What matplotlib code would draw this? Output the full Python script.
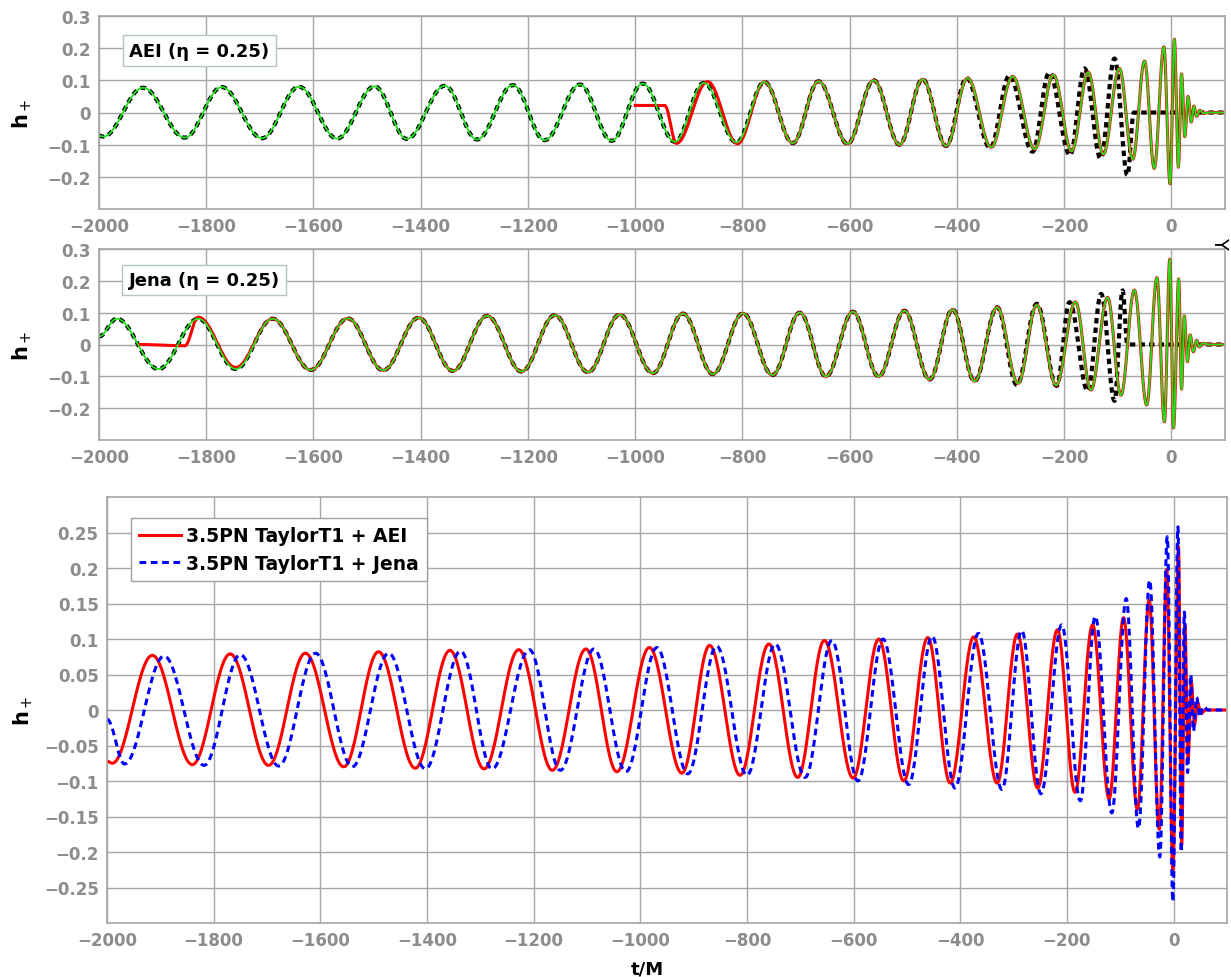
import numpy as np
import matplotlib
matplotlib.use("Agg")
import matplotlib.pyplot as plt
from matplotlib.ticker import FuncFormatter

# ---- data: extrema (t/M, h+) of every wave ----
# top panel, AEI hybrid (green)
aei_t = [-2000, -1992, -1918, -1840, -1771, -1696, -1627, -1556, -1486, -1426,
         -1355, -1295, -1228, -1169, -1103, -1044, -986, -926, -872, -811,
         -759, -706, -658, -604, -555, -507, -464, -420, -380, -336,
         -296, -255, -220, -186, -155, -127, -97, -72, -50, -32,
         -14, -2.5, 5.6, 13, 19, 25, 31, 37, 42, 47, 53, 60, 70, 100]
aei_h = [-0.072, -0.075, 0.077, -0.078, 0.079, -0.080, 0.080, -0.081, 0.081, -0.082,
         0.083, -0.084, 0.085, -0.086, 0.087, -0.088, 0.090, -0.091, 0.092, -0.093,
         0.095, -0.095, 0.097, -0.097, 0.100, -0.100, 0.103, -0.104, 0.107, -0.108,
         0.112, -0.114, 0.117, -0.120, 0.125, -0.130, 0.137, -0.145, 0.160, -0.174,
         0.204, -0.222, 0.228, -0.170, 0.120, -0.075, 0.050, -0.030, 0.020, -0.012,
         0.007, -0.003, 0.0, 0.0]
# top panel, PN part (black dashed) after it leaves the green curve
aei_pn_t = [-382, -338, -302, -259, -228, -189, -162, -132, -106, -82, -70, 100]
aei_pn_h = [0.107, -0.110, 0.115, -0.122, 0.124, -0.133, 0.137, -0.143, 0.168, -0.195, 0.0, 0.0]
# top panel, red hybrid before it joins the green curve
aei_red_t = [-1000, -945, -923, -865, -809]
aei_red_h = [0.022, 0.022, -0.096, 0.096, -0.097]

# middle panel, Jena hybrid (green)
jena_t = [-2000, -1967, -1889, -1815, -1745, -1676, -1605, -1536, -1470, -1404,
          -1340, -1276, -1212, -1150, -1088, -1029, -967, -911, -855, -799,
          -744, -693, -644, -594, -546, -498, -451, -408, -367, -325,
          -286, -251, -215, -179, -150, -119, -94, -69, -46, -27,
          -13, -3, 4, 13.6, 19, 24, 30, 35, 41, 47, 52, 58, 70, 100]
jena_h = [0.025, 0.081, -0.077, 0.081, -0.077, 0.081, -0.080, 0.082, -0.081, 0.084,
          -0.083, 0.090, -0.085, 0.092, -0.087, 0.094, -0.090, 0.097, -0.093, 0.098,
          -0.096, 0.100, -0.100, 0.103, -0.100, 0.106, -0.110, 0.110, -0.115, 0.117,
          -0.122, 0.124, -0.128, 0.134, -0.143, 0.148, -0.159, 0.171, -0.190, 0.210,
          -0.243, 0.268, -0.262, 0.206, -0.140, 0.090, -0.054, 0.030, -0.023, 0.013,
          -0.008, 0.004, 0.0, 0.0]
jena_pn_t = [-325, -288, -251, -214, -190, -156, -131, -106, -91, -82, 100]
jena_pn_h = [0.117, -0.127, 0.128, -0.130, 0.133, -0.146, 0.159, -0.177, 0.170, 0.0, 0.0]
jena_red_t = [-1925, -1840, -1815, -1745]
jena_red_h = [0.0, -0.004, 0.086, -0.072]

# bottom panel: 3.5PN TaylorT1 + AEI / + Jena
t1_aei_t = [-2000, -1990, -1915, -1840, -1769, -1697, -1628, -1556, -1491, -1422,
            -1357, -1293, -1228, -1165, -1102, -1044, -983, -922, -870, -813,
            -759, -705, -655, -601, -553, -506, -461, -419, -375, -331,
            -293, -255, -218, -185, -152, -121, -94, -68, -46, -27,
            -13, -1.5, 9, 15, 21, 27, 33, 39, 45, 51, 60, 100]
t1_aei_h = [-0.072, -0.075, 0.077, -0.077, 0.079, -0.078, 0.080, -0.080, 0.082, -0.082,
            0.084, -0.083, 0.085, -0.085, 0.086, -0.087, 0.088, -0.089, 0.091, -0.092,
            0.093, -0.095, 0.098, -0.096, 0.100, -0.100, 0.102, -0.103, 0.103, -0.103,
            0.107, -0.110, 0.113, -0.116, 0.120, -0.125, 0.130, -0.140, 0.155, -0.168,
            0.198, -0.225, 0.230, -0.190, 0.120, -0.070, 0.040, -0.020, 0.010, -0.005,
            0.0, 0.0]
t1_jena_t = [-2000, -1967, -1893, -1818, -1750, -1678, -1609, -1540, -1472, -1403,
             -1337, -1278, -1208, -1150, -1087, -1027, -969, -911, -857, -800,
             -747, -691, -641, -592, -545, -497, -453, -410, -366, -322,
             -285, -249, -210, -175, -147, -116, -89, -66, -45, -26,
             -12, -1.5, 8, 14, 20, 26, 32, 37, 43, 49, 55, 65, 100]
t1_jena_h = [-0.013, -0.076, 0.076, -0.078, 0.078, -0.079, 0.080, -0.080, 0.080, -0.083,
             0.083, -0.083, 0.085, -0.085, 0.086, -0.087, 0.088, -0.090, 0.090, -0.092,
             0.093, -0.095, 0.098, -0.100, 0.100, -0.105, 0.104, -0.110, 0.108, -0.112,
             0.112, -0.118, 0.120, -0.128, 0.132, -0.145, 0.157, -0.167, 0.183, -0.207,
             0.244, -0.270, 0.258, -0.200, 0.138, -0.088, 0.050, -0.030, 0.018, -0.010,
             0.005, 0.0, 0.0]

x_ticks = list(range(-2000, 1, 200))
top_yticks = [-0.2, -0.1, 0.0, 0.1, 0.2, 0.3]
bot_yticks = [-0.25, -0.2, -0.15, -0.1, -0.05, 0.0, 0.05, 0.1, 0.15, 0.2, 0.25]


def wave(ts, hs, n=30):
    # smooth half-cosine swing between successive read extrema
    tt, hh = [], []
    for i in range(len(ts) - 1):
        s = np.linspace(0, 1, n, endpoint=False)
        tt.append(ts[i] + (ts[i + 1] - ts[i]) * s)
        hh.append(hs[i] + (hs[i + 1] - hs[i]) * (1 - np.cos(np.pi * s)) / 2)
    tt.append([ts[-1]])
    hh.append([hs[-1]])
    return np.concatenate(tt), np.concatenate(hh)


def head(t0, h0, t1, h1):
    # first list up to where the second one takes over
    k = next(i for i, t in enumerate(t0) if t >= t1[0])
    return list(t0[:k]) + list(t1), list(h0[:k]) + list(h1)


def tail(t0, h0, t1, h1):
    # second list, then the first one after it ends
    rest = [i for i, t in enumerate(t1) if t > t0[-1]]
    return list(t0) + [t1[i] for i in rest], list(h0) + [h1[i] for i in rest]


def fmt(v, pos):
    return f"{v:g}".replace("-", "\u2212")


GRAY = "#8c8c8c"
GRID = "#a6a6a6"
GREEN = "#1fe01f"


def style(ax, yticks):
    ax.set_xlim(-2000, 100)
    ax.set_ylim(-0.3, 0.3)
    ax.set_xticks(x_ticks)
    ax.set_yticks(yticks)
    ax.yaxis.set_major_formatter(FuncFormatter(fmt))
    ax.xaxis.set_major_formatter(FuncFormatter(fmt))
    ax.grid(True, color=GRID, lw=1.0)
    ax.set_axisbelow(True)
    ax.tick_params(length=0, labelsize=12, labelcolor=GRAY, pad=6)
    for lab in ax.get_xticklabels() + ax.get_yticklabels():
        lab.set_fontweight("bold")
    for sp in ax.spines.values():
        sp.set_color(GRID)
        sp.set_linewidth(1.2)


def panel(ax, nr_t, nr_h, pn_t, pn_h, red_t, red_h, label, xc, yc):
    t, h = wave(*head(nr_t, nr_h, pn_t, pn_h))
    ax.plot(t, h, color="black", lw=3, ls=(0, (1.3, 1.0)))
    t, h = wave(*tail(red_t, red_h, nr_t, nr_h))
    ax.plot(t, h, color="red", lw=2.2)
    t, h = wave(nr_t, nr_h)
    ax.plot(t, h, color=GREEN, lw=1.3)
    style(ax, top_yticks)
    ax.text(xc, yc, label, transform=ax.transAxes,
            ha="center", va="center", fontsize=13, fontweight="bold",
            bbox=dict(boxstyle="square,pad=0.35", fc="white", ec="#b4c4c4", lw=1))


fig = plt.figure(figsize=(12.31, 9.78), dpi=100)
W, H = 1231, 978
ax1 = fig.add_axes([99 / W, 1 - 210 / H, 1126 / W, 193 / H])
ax2 = fig.add_axes([99 / W, 1 - 441 / H, 1126 / W, 191 / H])
ax3 = fig.add_axes([107 / W, 1 - 924 / H, 1120 / W, 426 / H])

panel(ax1, aei_t, aei_h, aei_pn_t, aei_pn_h, aei_red_t, aei_red_h,
      "AEI (\u03b7 = 0.25)", 0.089, 0.821)
panel(ax2, jena_t, jena_h, jena_pn_t, jena_pn_h, jena_red_t, jena_red_h,
      "Jena (\u03b7 = 0.25)", 0.0933, 0.838)

# bottom: both TaylorT1 hybrids
t, h = wave(t1_aei_t, t1_aei_h)
ax3.plot(t, h, color="red", lw=2.2, label="3.5PN TaylorT1 + AEI")
t, h = wave(t1_jena_t, t1_jena_h)
ax3.plot(t, h, color="blue", lw=2.2, ls=(0, (2.2, 1.5)), label="3.5PN TaylorT1 + Jena")
style(ax3, bot_yticks)
leg = ax3.legend(loc="upper left", bbox_to_anchor=(0.0214, 0.951), borderaxespad=0,
                 fancybox=False, framealpha=1, edgecolor="#a0a0a0",
                 prop={"weight": "bold", "size": 13.5}, handlelength=2.2,
                 handletextpad=0.3, borderpad=0.45, labelspacing=0.45)
leg.get_frame().set_linewidth(1)

for ax, xc in ((ax1, -0.058), (ax2, -0.058), (ax3, -0.064)):
    ax.set_ylabel("h$_+$", fontsize=15, fontweight="bold")
    ax.yaxis.set_label_coords(xc, 0.5)

fig.text(647 / W, 1 - 970 / H, "t/M", ha="center", va="center",
         fontsize=13, fontweight="bold")
fig.text(1220 / W, 1 - 243 / H, "Y", ha="center", va="center",
         fontsize=14, rotation=-90)

fig.savefig("out.png", dpi=100)
